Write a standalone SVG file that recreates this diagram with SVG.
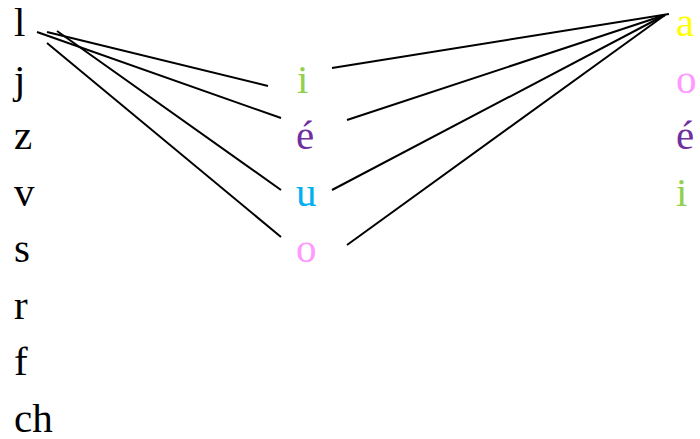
<svg xmlns="http://www.w3.org/2000/svg" width="700" height="439" viewBox="0 0 700 439">
<style>
text{font-family:"Liberation Serif","Times New Roman",serif;font-size:41px}
.k{fill:#000}.g{fill:#92d050}.p{fill:#7030a0}.b{fill:#00b0f0}.pk{fill:#ff99ff}.y{fill:#ffff00}
#connectors line{stroke:#000;stroke-width:2}
</style>
<rect width="700" height="439" fill="#fff"/>
<g id="connectors">
<line x1="47" y1="32" x2="268" y2="86"/>
<line x1="37" y1="32" x2="281" y2="118"/>
<line x1="57" y1="31" x2="281" y2="190"/>
<line x1="47" y1="43" x2="281" y2="237"/>
<line x1="332" y1="68" x2="669" y2="14"/>
<line x1="347" y1="120" x2="665" y2="15"/>
<line x1="332" y1="190" x2="665" y2="15"/>
<line x1="347" y1="245" x2="665" y2="15"/>
</g>
<g id="left">
<g id="l-l"><text class="k" x="14" y="36">l</text></g>
<g id="l-j"><text class="k" x="14" y="92.5">j</text></g>
<g id="l-z"><text class="k" x="14" y="149">z</text></g>
<g id="l-v"><text class="k" x="14" y="205.5">v</text></g>
<g id="l-s"><text class="k" x="14" y="262">s</text></g>
<g id="l-r"><text class="k" x="14" y="318.5">r</text></g>
<g id="l-f"><text class="k" x="14" y="375">f</text></g>
<g id="l-ch"><text class="k" x="14" y="431.5">ch</text></g>
</g>
<g id="middle">
<g id="m-i"><text class="g" x="297" y="92.5">i</text></g>
<g id="m-e"><text class="p" x="296" y="149">é</text></g>
<g id="m-u"><text class="b" x="296" y="205.5">u</text></g>
<g id="m-o"><text class="pk" x="296" y="262">o</text></g>
</g>
<g id="right">
<g id="r-a"><text class="y" x="676" y="36">a</text></g>
<g id="r-o"><text class="pk" x="676" y="92.5">o</text></g>
<g id="r-e"><text class="p" x="676" y="149">é</text></g>
<g id="r-i"><text class="g" x="676" y="205.5">i</text></g>
</g>
</svg>
